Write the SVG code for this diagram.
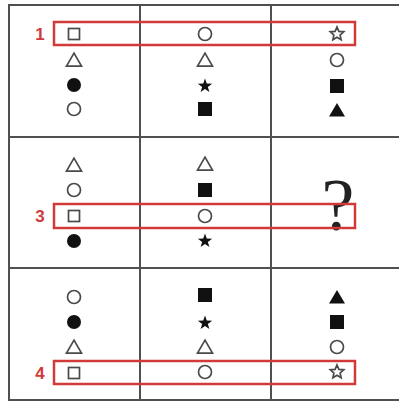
<svg xmlns="http://www.w3.org/2000/svg" xmlns:xlink="http://www.w3.org/1999/xlink" width="399" height="403" viewBox="0 0 399 403">
<style>
.grid{stroke:#505050;stroke-width:2;fill:none}
.hl{stroke:#d23a3a;stroke-width:2.5;fill:none}
.num{font-family:"Liberation Sans",Arial,sans-serif;font-size:17px;font-weight:bold;fill:#d23a3a;text-anchor:middle}
.q{font-family:"Liberation Serif","Times New Roman",serif;font-size:74px;fill:#222;text-anchor:middle}
.o{fill:none;stroke:#4a4a4a;stroke-width:1.7}
.f{fill:#111}
</style>
<defs>
<rect id="sq" class="o" x="-5.5" y="-5.5" width="11" height="11"/>
<rect id="fsq" class="f" x="-7" y="-7" width="14" height="14"/>
<circle id="ci" class="o" r="6.5"/>
<circle id="fci" class="f" r="7"/>
<polygon id="tr" class="o" points="0,-6.8 7.5,6.2 -7.5,6.2"/>
<polygon id="ftr" class="f" points="0,-7 8,6.5 -8,6.5"/>
<path id="st" class="f" d="M0,-7.5 L1.76,-2.43 L7.13,-2.32 L2.85,0.93 L4.41,6.07 L0,3 L-4.41,6.07 L-2.85,0.93 L-7.13,-2.32 L-1.76,-2.43 Z"/>
<path id="ost" class="o" d="M0,-7 L1.9,-2.6 L6.7,-2.2 L3.1,1 L4.1,5.7 L0,3.3 L-4.1,5.7 L-3.1,1 L-6.7,-2.2 L-1.9,-2.6 Z"/>
</defs>
<rect x="0" y="0" width="399" height="403" fill="#fff"/>
<g id="grid">
<line class="grid" x1="9" y1="5" x2="9" y2="400"/>
<line class="grid" x1="140" y1="5" x2="140" y2="400"/>
<line class="grid" x1="271" y1="5" x2="271" y2="400"/>
<line class="grid" x1="8" y1="5" x2="399" y2="5"/>
<line class="grid" x1="8" y1="137" x2="399" y2="137"/>
<line class="grid" x1="8" y1="268" x2="399" y2="268"/>
<line class="grid" x1="8" y1="400" x2="399" y2="400"/>
</g>
<g id="cell-r1c1">
<use xlink:href="#sq" x="74" y="34"/>
<use xlink:href="#tr" x="74" y="60"/>
<use xlink:href="#fci" x="74" y="85"/>
<use xlink:href="#ci" x="74" y="109"/>
</g>
<g id="cell-r1c2">
<use xlink:href="#ci" x="205" y="34"/>
<use xlink:href="#tr" x="205" y="60"/>
<use xlink:href="#st" x="205" y="86"/>
<use xlink:href="#fsq" x="205" y="109"/>
</g>
<g id="cell-r1c3">
<use xlink:href="#ost" x="337" y="34"/>
<use xlink:href="#ci" x="337" y="60"/>
<use xlink:href="#fsq" x="337" y="86"/>
<use xlink:href="#ftr" x="337" y="110"/>
</g>
<g id="cell-r2c1">
<use xlink:href="#tr" x="74" y="165"/>
<use xlink:href="#ci" x="74" y="190"/>
<use xlink:href="#sq" x="74" y="216"/>
<use xlink:href="#fci" x="74" y="241"/>
</g>
<g id="cell-r2c2">
<use xlink:href="#tr" x="205" y="164"/>
<use xlink:href="#fsq" x="205" y="190"/>
<use xlink:href="#ci" x="205" y="216"/>
<use xlink:href="#st" x="205" y="241"/>
</g>
<g id="cell-r2c3">
<text class="q" x="338" y="230">?</text>
</g>
<g id="cell-r3c1">
<use xlink:href="#ci" x="74" y="297"/>
<use xlink:href="#fci" x="74" y="322"/>
<use xlink:href="#tr" x="74" y="347"/>
<use xlink:href="#sq" x="74" y="373"/>
</g>
<g id="cell-r3c2">
<use xlink:href="#fsq" x="205" y="295"/>
<use xlink:href="#st" x="205" y="323"/>
<use xlink:href="#tr" x="205" y="347"/>
<use xlink:href="#ci" x="205" y="372"/>
</g>
<g id="cell-r3c3">
<use xlink:href="#ftr" x="337" y="297"/>
<use xlink:href="#fsq" x="337" y="322"/>
<use xlink:href="#ci" x="337" y="347"/>
<use xlink:href="#ost" x="337" y="372"/>
</g>
<g id="highlights">
<rect class="hl" x="54" y="22" width="301" height="23"/>
<rect class="hl" x="54" y="204" width="301" height="24"/>
<rect class="hl" x="54" y="361" width="301" height="23"/>
<text class="num" x="40" y="40">1</text>
<text class="num" x="40" y="222">3</text>
<text class="num" x="40" y="379">4</text>
</g>
</svg>
